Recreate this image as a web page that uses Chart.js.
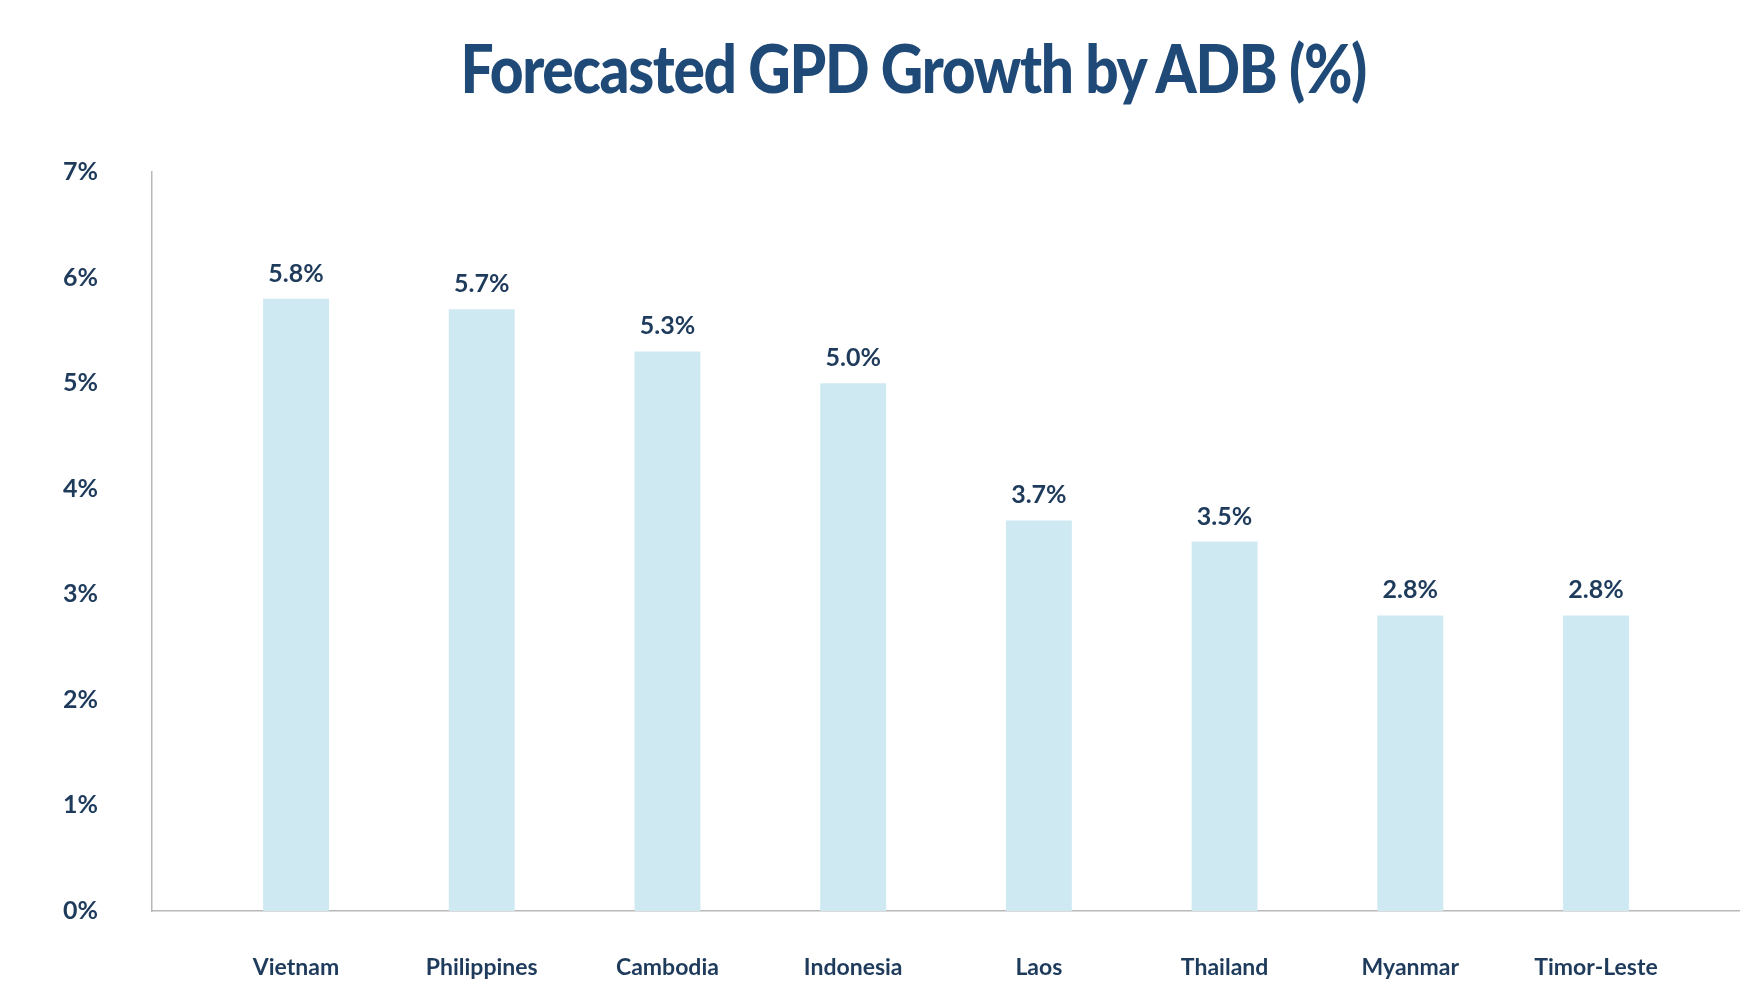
<!DOCTYPE html>
<html>
<head>
<meta charset="utf-8">
<title>Forecasted GPD Growth by ADB (%)</title>
<script src="https://cdn.jsdelivr.net/npm/chart.js@4"></script>
<style>
    html, body { margin: 0; padding: 0; background: #ffffff; }
    #wrap { position: relative; width: 1752px; height: 1005px; }
    #title {
        position: absolute; left: 0; top: 28px; width: 1752px;
        text-align: center; white-space: nowrap;
        font-family: Lato, "Noto Sans", sans-serif; font-weight: 900;
        font-size: 66px; line-height: 80px; letter-spacing: -1.5px;
        color: #1f4a78;
    }
    #title span { display: inline-block; transform-origin: center; }
    canvas { position: absolute; left: 0; top: 0; }
</style>
</head>
<body>
<div id="wrap">
    <canvas id="gdpChart" width="1752" height="1005"></canvas>
    <div id="title"><span>Forecasted GPD Growth by ADB (%)</span></div>
</div>
<script>
// Data
const countries = ["Vietnam", "Philippines", "Cambodia", "Indonesia", "Laos", "Thailand", "Myanmar", "Timor-Leste"];
const growth = [5.8, 5.7, 5.3, 5.0, 3.7, 3.5, 2.8, 2.8];
const yTicks = [0, 1, 2, 3, 4, 5, 6, 7];

const textColor = "#1f3b5c";

// squeeze title to the condensed look of the original
const titleSpan = document.querySelector("#title span");
titleSpan.style.transform = "scaleX(" + (906 / titleSpan.offsetWidth) + ")";
document.getElementById("title").style.left = "37px";

// value labels above the bars
const barLabels = {
    id: "barLabels",
    afterDatasetsDraw(chart) {
        const ctx = chart.ctx;
        const meta = chart.getDatasetMeta(0);
        ctx.save();
        ctx.font = "bold 25px Lato";
        ctx.fillStyle = textColor;
        ctx.textAlign = "center";
        ctx.textBaseline = "alphabetic";
        meta.data.forEach((bar, i) => {
            ctx.fillText(growth[i].toFixed(1) + "%", bar.x, bar.y - 17);
        });
        ctx.restore();
    }
};

new Chart(document.getElementById("gdpChart"), {
    type: "bar",
    data: {
        datasets: [{
            label: "GDP growth",
            data: growth.map((v, i) => ({ x: i, y: v })),
            backgroundColor: "#cfe9f3",
            barPercentage: 0.355,
            categoryPercentage: 1
        }]
    },
    options: {
        responsive: false,
        animation: false,
        layout: { padding: { top: 172, right: 13, left: 0, bottom: 0 } },
        plugins: {
            legend: { display: false },
            tooltip: { enabled: false }
        },
        scales: {
            x: {
                type: "linear",
                offset: false,
                min: -0.7755,
                max: 7.77,
                afterBuildTicks: scale => {
                    scale.ticks = countries.map((c, i) => ({ value: i }));
                },
                afterFit: scale => { scale.height = 94; },
                grid: { display: false, drawTicks: false, offset: false },
                border: { display: true, color: "#b8b8b8", width: 1.5 },
                ticks: {
                    padding: 43,
                    autoSkip: false,
                    maxRotation: 0,
                    color: textColor,
                    font: { family: "Lato", size: 23, weight: "bold" },
                    callback: v => countries[v]
                }
            },
            y: {
                min: 0,
                max: 7,
                afterBuildTicks: scale => {
                    scale.ticks = yTicks.map(v => ({ value: v }));
                },
                afterFit: scale => { scale.width = 152; },
                grid: { display: false, drawTicks: false },
                border: { display: true, color: "#b8b8b8", width: 1.5 },
                ticks: {
                    padding: 54,
                    color: textColor,
                    font: { family: "Lato", size: 25, weight: "bold" },
                    callback: v => v + "%"
                }
            }
        }
    },
    plugins: [barLabels]
});
</script>
</body>
</html>
